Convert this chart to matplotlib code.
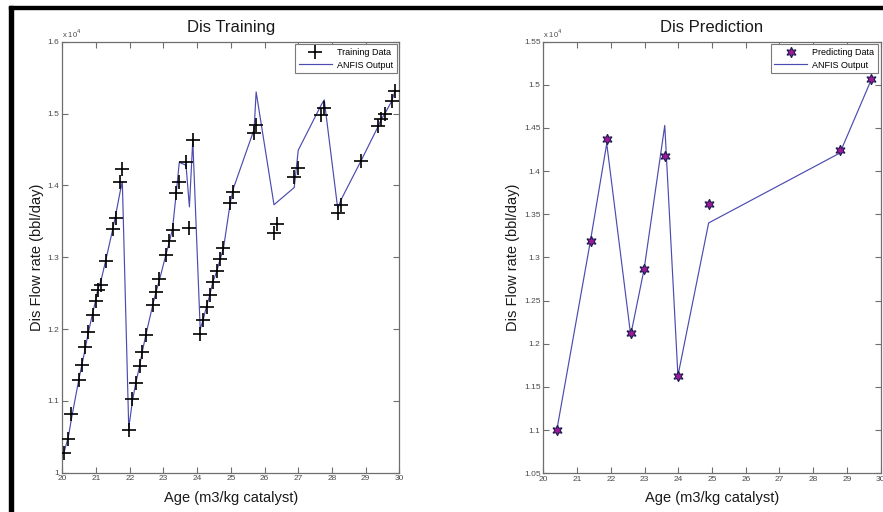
import matplotlib
matplotlib.use('Agg')
import matplotlib.pyplot as plt
from matplotlib.patches import Rectangle
from matplotlib.ticker import FuncFormatter, MultipleLocator

plt.rcParams['font.family'] = ['Liberation Sans', 'DejaVu Sans']

# training data (age, measured flow rate, ANFIS output)
train_age = [20.06, 20.18, 20.27, 20.49, 20.58, 20.68, 20.77, 20.90, 20.99, 21.05,
             21.15, 21.30, 21.50, 21.58, 21.71, 21.78, 21.97, 22.08, 22.18, 22.29,
             22.37, 22.47, 22.69, 22.77, 22.88, 23.07, 23.17, 23.27, 23.37, 23.47,
             23.67, 23.77, 23.87, 24.09, 24.18, 24.28, 24.38, 24.46, 24.58, 24.68,
             24.78, 24.98, 25.07, 25.69, 25.75, 26.28, 26.38, 26.88, 27.00, 27.67,
             27.77, 28.17, 28.27, 28.86, 29.38, 29.46, 29.56, 29.77, 29.87]
train_flow = [10270, 10465, 10810, 11290, 11500, 11750, 11960, 12190, 12396, 12550,
              12610, 12950, 13390, 13540, 14040, 14230, 10600, 11030, 11245, 11480,
              11680, 11920, 12336, 12510, 12690, 13036, 13220, 13380, 13900, 14050,
              14320, 13410, 14630, 11930, 12130, 12310, 12470, 12650, 12810, 12980,
              13125, 13750, 13910, 14730, 14840, 13330, 13460, 14110, 14240, 14980,
              15080, 13610, 13730, 14345, 14830, 14920, 14990, 15170, 15310]
train_anfis = [10300, 10500, 10750, 11300, 11500, 11730, 11950, 12220, 12400, 12550,
               12680, 12980, 13400, 13580, 13900, 14050, 10620, 11000, 11250, 11480,
               11680, 11900, 12350, 12500, 12680, 13030, 13200, 13400, 13850, 14320,
               14280, 13700, 14630, 12000, 12130, 12320, 12480, 12650, 12800, 12970,
               13120, 13750, 13950, 14780, 15300, 13730, 13770, 13970, 14490, 15110,
               15190, 13680, 13800, 14340, 14830, 14920, 14990, 15170, 15310]

# prediction data
pred_age = [20.40, 21.40, 21.88, 22.59, 22.99, 23.60, 23.99, 24.90, 28.79, 29.71]
pred_flow = [11000, 13195, 14376, 12120, 12867, 14176, 11630, 13620, 14245, 15070]
pred_anfis = [11000, 13200, 14320, 12100, 12870, 14530, 11630, 13400, 14210, 15050]

LINE_COLOR = '#4b4bb0'
AXIS_COLOR = '#6e6e6e'
TICK_COLOR = '#4a4a4a'


def style_axes(ax, ylim, ystep):
    ax.set_xlim(20, 30)
    ax.set_ylim(*ylim)
    ax.xaxis.set_major_locator(MultipleLocator(1))
    ax.yaxis.set_major_locator(MultipleLocator(ystep))
    ax.yaxis.set_major_formatter(FuncFormatter(lambda v, p: '{:g}'.format(round(v / 1e4, 3))))
    ax.tick_params(direction='in', top=True, right=True, length=4, width=0.8,
                   labelsize=6, colors=AXIS_COLOR, labelcolor=TICK_COLOR, pad=2)
    for s in ax.spines.values():
        s.set_color(AXIS_COLOR)
        s.set_linewidth(0.9)
    ax.text(0.0, 1.005, u'x 10$^4$', transform=ax.transAxes, fontsize=5.5,
            color=TICK_COLOR, ha='left', va='bottom')
    ax.set_xlabel('Age (m3/kg catalyst)', fontsize=10.5, color='#1a1a1a', labelpad=6)
    ax.set_ylabel('Dis Flow rate (bbl/day)', fontsize=10.5, color='#1a1a1a', labelpad=3)


def make_legend(ax):
    leg = ax.legend(loc='upper right', fontsize=6.5, fancybox=False, framealpha=1,
                    edgecolor='#7a7a7a', borderaxespad=0.3, borderpad=0.4,
                    labelspacing=0.4, handlelength=3.6, handletextpad=0.6)
    leg.get_frame().set_linewidth(0.8)
    return leg


fig = plt.figure(figsize=(8.83, 5.12), dpi=100)

ax1 = fig.add_axes([0.0706, 0.0768, 0.3817, 0.8418])
ax1.plot(train_age, train_flow, linestyle='none', marker='+', markersize=9.5,
         markeredgewidth=1.2, color='black', label='Training Data', zorder=3)
ax1.plot(train_age, train_anfis, color=LINE_COLOR, linewidth=0.85, label='ANFIS Output',
         zorder=2)
style_axes(ax1, (10000, 16000), 1000)
ax1.set_title('Dis Training', fontsize=12, color='#1a1a1a', pad=7)
make_legend(ax1)

ax2 = fig.add_axes([0.6153, 0.0756, 0.3821, 0.843])
ax2.plot(pred_age, pred_flow, linestyle='none', marker=(6, 1, 0), markersize=7.5,
         markerfacecolor='#a0189a', markeredgecolor='#1a1a50', markeredgewidth=0.8,
         label='Predicting Data', zorder=3)
ax2.plot(pred_age, pred_anfis, color=LINE_COLOR, linewidth=0.85, label='ANFIS Output',
         zorder=2)
style_axes(ax2, (10500, 15500), 500)
ax2.set_title('Dis Prediction', fontsize=12, color='#1a1a1a', pad=7)
make_legend(ax2)

# black frame bars on the left and top edges
fig.add_artist(Rectangle((9 / 883, 0), 4 / 883, 506 / 512, transform=fig.transFigure,
                         color='black', zorder=10))
fig.add_artist(Rectangle((9 / 883, 503 / 512), 874 / 883, 3 / 512,
                         transform=fig.transFigure, color='black', zorder=10))

plt.savefig('out.png', dpi=100)
